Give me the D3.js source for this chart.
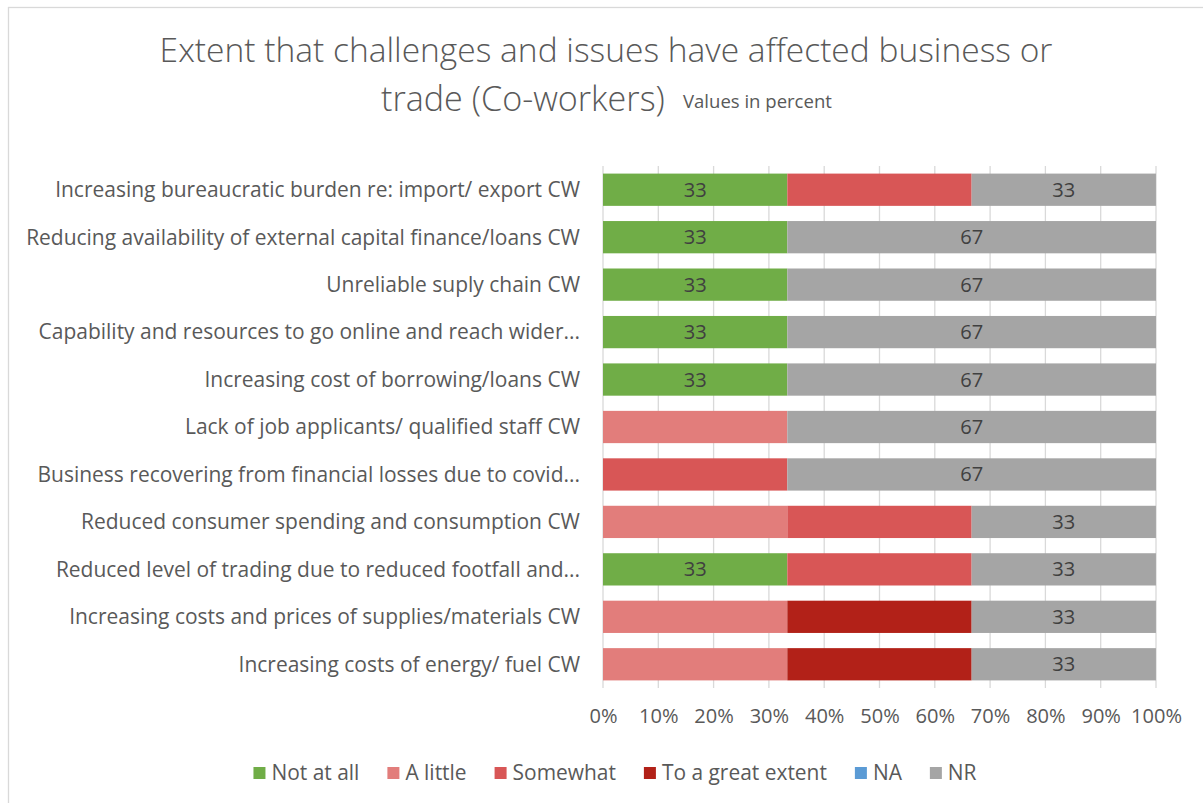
<!DOCTYPE html>
<html><head><meta charset="utf-8">
<script src="https://cdn.jsdelivr.net/npm/d3@7"></script>
<style>html,body{margin:0;padding:0;background:#fff;}svg{display:block;}</style>
</head><body>
<svg id="chart" width="1203" height="803"></svg>
<script>
const categories = [
  "Increasing bureaucratic burden re: import/ export CW",
  "Reducing availability of external capital finance/loans CW",
  "Unreliable suply chain CW",
  "Capability and resources to go online and reach wider...",
  "Increasing cost of borrowing/loans CW",
  "Lack of job applicants/ qualified staff CW",
  "Business recovering from financial losses due to covid...",
  "Reduced consumer spending and consumption CW",
  "Reduced level of trading due to reduced footfall and...",
  "Increasing costs and prices of supplies/materials CW",
  "Increasing costs of energy/ fuel CW"
];
const seriesNames = ["Not at all","A little","Somewhat","To a great extent","NA","NR"];
const notAtAll = [33.33,33.33,33.33,33.33,33.33,0,0,0,33.33,0,0];
const aLittle  = [0,0,0,0,0,33.33,0,33.33,0,33.33,33.33];
const somewhat = [33.33,0,0,0,0,0,33.33,33.33,33.33,0,0];
const greatExtent = [0,0,0,0,0,0,0,0,0,33.33,33.33];
const na = [0,0,0,0,0,0,0,0,0,0,0];
const nr = [33.33,66.67,66.67,66.67,66.67,66.67,66.67,33.33,33.33,33.33,33.33];
const colors = ["#70AD47","#E27D7B","#D85656","#B22118","#5B9BD5","#A5A5A5"];
const showLabels = [true,false,false,false,false,true];
const ticks = [0,10,20,30,40,50,60,70,80,90,100];

const seriesValues = [notAtAll,aLittle,somewhat,greatExtent,na,nr];
const rows = categories.map((c,i)=>{const o={cat:c}; seriesNames.forEach((s,j)=>o[s]=seriesValues[j][i]); return o;});
const stack = d3.stack().keys(seriesNames)(rows);

const svg = d3.select("#chart");
const font = "'Open Sans', sans-serif";
function fit(sel, target){
  const n = sel.node(); const fs = parseFloat(sel.attr("font-size"));
  const w = n.getComputedTextLength(); sel.attr("font-size", fs*target/w);
  return fs*target/w;
}
function measure(txt, size){
  const t = svg.append("text").attr("font-family",font).attr("font-size",size).text(txt);
  const w = t.node().getComputedTextLength(); t.remove(); return w;
}
svg.append("rect").attr("x",8.5).attr("y",7.5).attr("width",1210).attr("height",810)
  .attr("fill","#fff").attr("stroke","#D9D9D9").attr("stroke-width",1.3);

const x = d3.scaleLinear().domain([0,100]).range([603,1156]);
const y = d3.scaleBand().domain(categories).range([166,688]).paddingInner(0.32).paddingOuter(0.16);

svg.append("g").selectAll("line").data(ticks).join("line")
  .attr("x1",d=>x(d)).attr("x2",d=>x(d)).attr("y1",166).attr("y2",688)
  .attr("stroke","#D9D9D9").attr("stroke-width",1.3);

const labelSize = 18*23/measure("33",18);
const g = svg.append("g");
stack.forEach((layer,si)=>{
  g.append("g").selectAll("rect").data(layer).join("rect")
    .attr("x",d=>x(d[0])).attr("width",d=>x(d[1])-x(d[0]))
    .attr("y",d=>y(d.data.cat)).attr("height",y.bandwidth())
    .attr("fill",colors[si]);
  if(showLabels[si]){
    g.append("g").selectAll("text").data(layer.filter(d=>d[1]-d[0]>0)).join("text")
      .attr("x",d=>x((d[0]+d[1])/2)).attr("y",d=>y(d.data.cat)+y.bandwidth()/2)
      .attr("dy","0.35em").attr("text-anchor","middle")
      .attr("font-family",font).attr("font-size",labelSize).attr("fill","#404040")
      .text(d=>Math.round(d[1]-d[0]));
  }
});

const catText = svg.append("g").selectAll("text").data(categories).join("text")
  .attr("x",580).attr("y",d=>y(d)+y.bandwidth()/2).attr("dy","0.35em")
  .attr("text-anchor","end").attr("font-family",font).attr("font-size",19)
  .attr("fill","#595959").text(d=>d);
const cs = fit(d3.select(catText.nodes()[0]), 525);
catText.attr("font-size", cs);

const tickSize = 18*51/measure("100%",18);
const xAxis = d3.axisBottom(x).tickValues(ticks).tickFormat(d=>d+"%").tickSize(0).tickPadding(0);
const ax = svg.append("g").attr("transform","translate(0,709)").call(xAxis);
ax.select(".domain").remove();
ax.selectAll("text").attr("font-family",font).attr("font-size",tickSize).attr("fill","#595959").attr("dy","0.71em");

const t1 = svg.append("text").attr("text-anchor","middle").attr("font-family",font).attr("fill","#595959")
  .attr("x",606).attr("y",62).attr("font-size",31).attr("font-weight",300)
  .text("Extent that challenges and issues have affected business or");
fit(t1, 893);
const t2 = svg.append("text").attr("font-family",font).attr("fill","#595959")
  .attr("x",381).attr("y",111).attr("font-size",31).attr("font-weight",300).text("trade (Co-workers)");
fit(t2, 284);
const t3 = svg.append("text").attr("font-family",font).attr("fill","#595959")
  .attr("x",683).attr("y",108).attr("font-size",16).text("Values in percent");
fit(t3, 149);

const legSize = 18*88/measure("Not at all",18);
const leg = svg.append("g");
let lx = 0;
seriesNames.forEach((s,i)=>{
  const gi = leg.append("g");
  gi.append("rect").attr("x",0).attr("y",-6).attr("width",12).attr("height",12).attr("fill",colors[i]);
  const tx = gi.append("text").attr("x",18).attr("dy","0.35em").attr("font-family",font)
    .attr("font-size",legSize).attr("fill","#595959").text(s);
  const w = 18 + tx.node().getComputedTextLength();
  gi.attr("transform",`translate(${lx},773)`);
  lx += w + 28;
});
const total = lx - 28;
leg.attr("transform",`translate(${(245+985)/2 - total/2},0)`);
</script>
</body></html>
